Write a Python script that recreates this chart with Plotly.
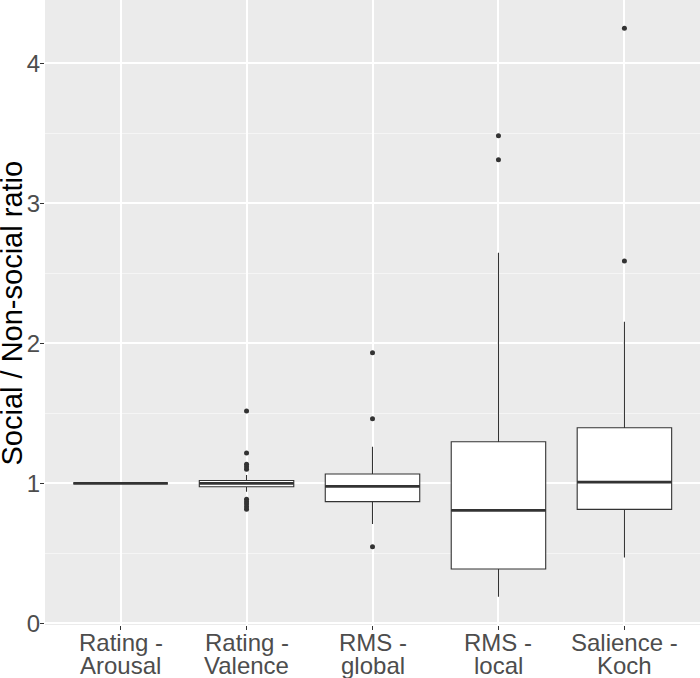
import plotly.graph_objects as go

# ---- data ----
categories = ["Rating - Arousal", "Rating - Valence", "RMS - global", "RMS - local", "Salience - Koch"]
label_line1 = ["Rating -", "Rating -", "RMS -", "RMS -", "Salience -"]
label_line2 = ["Arousal", "Valence", "global", "local", "Koch"]

q1 = [1.0, 0.975, 0.869, 0.388, 0.814]
median = [1.0, 1.0, 0.978, 0.807, 1.009]
q3 = [1.0, 1.02, 1.066, 1.297, 1.397]
lowerfence = [1.0, 0.94, 0.709, 0.19, 0.471]
upperfence = [1.0, 1.059, 1.261, 2.647, 2.154]

outlier_cat = [1, 1, 1, 1, 1, 1, 1, 1, 1, 1,
               2, 2, 2,
               3, 3,
               4, 4]
outlier_val = [1.516, 1.216, 1.136, 1.119, 1.1, 0.886, 0.869, 0.852, 0.833, 0.814,
               1.933, 1.461, 0.547,
               3.483, 3.311,
               4.25, 2.588]

y_ticks = [0, 1, 2, 3, 4]

# ---- style ----
BOX_W = 0.75
LINE_C = "#333333"
FONT = "Liberation Sans, Arial, Helvetica, sans-serif"
positions = list(range(len(categories)))

fig = go.Figure()

fig.add_trace(go.Box(
    x=positions, q1=q1, median=median, q3=q3,
    lowerfence=lowerfence, upperfence=upperfence,
    width=BOX_W, whiskerwidth=0, boxpoints=False,
    fillcolor="white", line=dict(color=LINE_C, width=1.1),
    showlegend=False, hoverinfo="skip",
))

# thicker median lines (ggplot fatten)
for i, m in zip(positions, median):
    fig.add_trace(go.Scatter(
        x=[i - BOX_W / 2, i + BOX_W / 2], y=[m, m], mode="lines",
        line=dict(color=LINE_C, width=2.8), showlegend=False, hoverinfo="skip",
    ))

fig.add_trace(go.Scatter(
    x=outlier_cat, y=outlier_val, mode="markers",
    marker=dict(color=LINE_C, size=5), showlegend=False, hoverinfo="skip",
))

# x tick labels as two-line annotations (tight ggplot line spacing)
for i, (a, b) in enumerate(zip(label_line1, label_line2)):
    fig.add_annotation(x=i, y=0, xref="x", yref="paper", text=a, showarrow=False,
                       yanchor="middle", yshift=-17,
                       font=dict(family=FONT, size=24, color="#4D4D4D"))
    fig.add_annotation(x=i, y=0, xref="x", yref="paper", text=b, showarrow=False,
                       yanchor="middle", yshift=-40,
                       font=dict(family=FONT, size=24, color="#4D4D4D"))

# y-axis title
fig.add_annotation(x=-0.0504, y=0.5, xref="paper", yref="paper",
                   text="Social / Non-social ratio", showarrow=False, textangle=-90,
                   xanchor="center", yanchor="middle",
                   font=dict(family=FONT, size=29, color="black"))

fig.update_layout(
    width=700, height=678,
    margin=dict(l=45, r=0, t=0, b=53),
    paper_bgcolor="white", plot_bgcolor="#EBEBEB",
    font=dict(family=FONT, size=24, color="#4D4D4D"),
    xaxis=dict(
        range=[-0.6, 4.6], tickvals=positions, showticklabels=False,
        showgrid=True, gridcolor="white", gridwidth=1.5,
        ticks="outside", ticklen=4, tickcolor=LINE_C, tickwidth=1,
        zeroline=False, showline=False, fixedrange=True,
    ),
    yaxis=dict(
        range=[-0.012, 4.452], tickvals=y_ticks, ticktext=[str(t) for t in y_ticks],
        showgrid=True, gridcolor="white", gridwidth=1.5,
        ticks="outside", ticklen=4, tickcolor=LINE_C, tickwidth=1,
        tickfont=dict(size=24, color="#4D4D4D"), ticklabelstandoff=-5,
        minor=dict(tickvals=[0.5, 1.5, 2.5, 3.5], showgrid=True, gridcolor="#F5F5F5", gridwidth=0.8, ticks=""),
        zeroline=False, showline=False, fixedrange=True,
    ),
)

fig.write_html(
    "out.html",
    config={"displayModeBar": False},
    post_script="document.body.style.margin='0';document.body.style.padding='0';document.body.style.overflow='hidden';",
)
